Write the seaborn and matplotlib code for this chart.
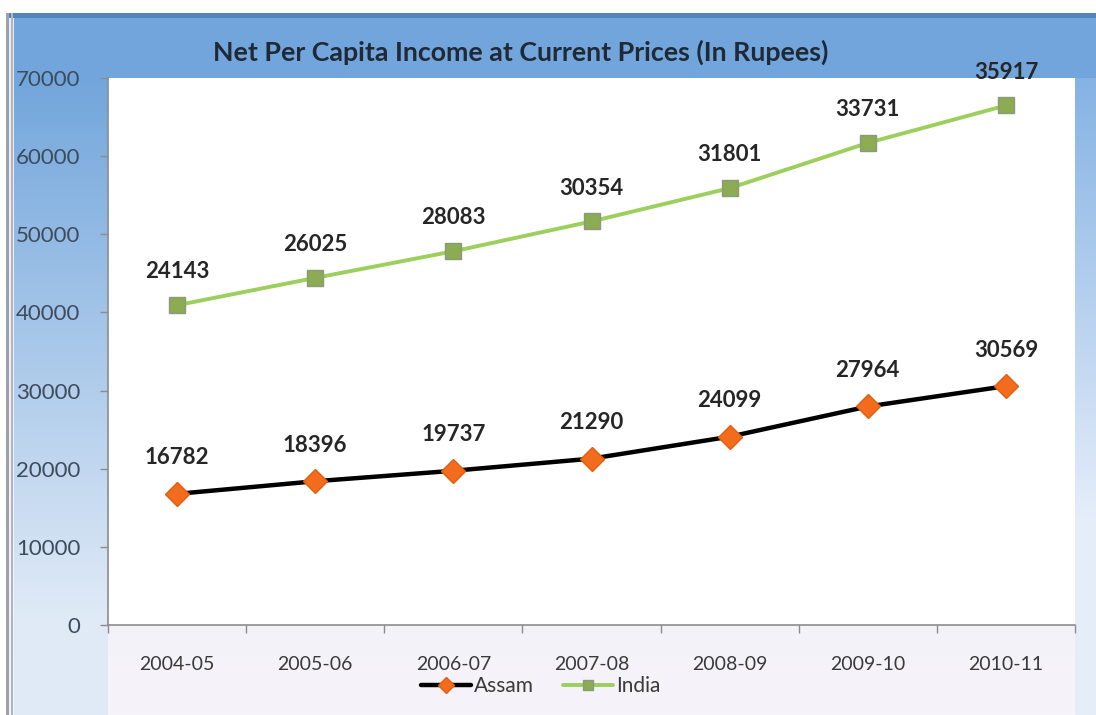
import numpy as np
import pandas as pd
import matplotlib
matplotlib.use("Agg")
import matplotlib.pyplot as plt
import seaborn as sns

# ---- data ----
years = ["2004-05", "2005-06", "2006-07", "2007-08", "2008-09", "2009-10", "2010-11"]
assam = [16782, 18396, 19737, 21290, 24099, 27964, 30569]
india = [24143, 26025, 28083, 30354, 31801, 33731, 35917]
y_ticks = [0, 10000, 20000, 30000, 40000, 50000, 60000, 70000]
title = "Net Per Capita Income at Current Prices (In Rupees)"

# stacked line chart: India series is drawn on top of Assam
india_stacked = [a + b for a, b in zip(assam, india)]

df = pd.DataFrame({
    "year": years * 2,
    "value": assam + india_stacked,
    "series": ["Assam"] * len(years) + ["India"] * len(years),
})

sns.set_theme(style="white")
plt.rcParams["font.family"] = ["Lato", "DejaVu Sans"]

W, H = 1096, 715
fig = plt.figure(figsize=(W / 100, H / 100), dpi=100)

# ---- background (frame styling) ----
bg = np.ones((H, W, 3))
base_top = np.array([0.90, 0.93, 0.97])
base_bot = np.array([0.965, 0.955, 0.98])
yy = np.linspace(0, 1, H)[:, None]
bg[:] = (base_top * (1 - yy) + base_bot * yy).reshape(H, 1, 3)
blue_top = np.array([0.40, 0.62, 0.85])
blue_fade = np.array([0.88, 0.92, 0.97])
t = np.clip((np.arange(H) - 18) / 600.0, 0, 1)[:, None]
side = blue_top * (1 - t) + blue_fade * t
bg[:, 14:108, :] = side[:, None, :]
t2 = np.clip((np.arange(H) - 18) / 500.0, 0, 1)[:, None]
side2 = np.array([0.47, 0.67, 0.88]) * (1 - t2) + np.array([0.90, 0.93, 0.98]) * t2
bg[:, 1075:, :] = side2[:, None, :]
bg[18:78, 14:, :] = np.array([0.45, 0.65, 0.86])
bg[:13, :, :] = 1.0
bg[13:18, 8:, :] = np.array([0.33, 0.52, 0.74])
bg[13:, 6:9, :] = np.array([0.62, 0.63, 0.67])
bg[13:, 11:13, :] = np.array([0.70, 0.71, 0.75])
bg[:, :6, :] = 1.0
bg_ax = fig.add_axes([0, 0, 1, 1], zorder=-10)
bg_ax.imshow(bg, aspect="auto", extent=[0, W, H, 0])
bg_ax.axis("off")

# ---- main axes ----
L, R, T, B = 108, 1075, 78, 625
ax = fig.add_axes([L / W, 1 - B / H, (R - L) / W, (B - T) / H])
ax.set_facecolor("white")

sns.lineplot(data=df[df.series == "Assam"], x="year", y="value", ax=ax,
             color="black", linewidth=3.2, marker="D", markersize=12,
             markerfacecolor="#f36b1c", markeredgecolor="#e0600f",
             markeredgewidth=1.0, label="Assam", sort=False)
sns.lineplot(data=df[df.series == "India"], x="year", y="value", ax=ax,
             color="#9ccf5c", linewidth=2.8, marker="s", markersize=11,
             markerfacecolor="#8cab52", markeredgecolor="#8a9a7a",
             markeredgewidth=1.0, label="India", sort=False)

# data labels (show the series' own values)
for i, a in enumerate(assam):
    ax.annotate(f"{a}", (i, a), xytext=(0, 26), textcoords="offset points",
                ha="center", va="center", fontsize=16, fontweight="bold",
                color="#262626")
for i, (v, s) in enumerate(zip(india, india_stacked)):
    ax.annotate(f"{v}", (i, s), xytext=(0, 24), textcoords="offset points",
                ha="center", va="center", fontsize=16, fontweight="bold",
                color="#262626", annotation_clip=False)

ax.set_xlim(-0.5, len(years) - 0.5)
ax.set_ylim(0, 70000)
ax.set_yticks(y_ticks)
ax.set_yticklabels([str(v) for v in y_ticks], fontsize=16, color="#3d4c5c")
ax.set_xticks(range(len(years)))
ax.set_xticklabels(years, fontsize=14, color="#3a3a3a")
ax.set_xticks(np.arange(-0.5, len(years)), minor=True)
ax.tick_params(axis="x", which="major", length=0, pad=22)
ax.tick_params(axis="x", which="minor", length=6, color="#8c8c8c", width=1, direction="out", bottom=True)
ax.tick_params(axis="y", which="major", length=6, color="#8c8c8c", width=1, direction="out", left=True, pad=14)
ax.set_xlabel("")
ax.set_ylabel("")
for sp in ["top", "right"]:
    ax.spines[sp].set_visible(False)
for sp in ["left", "bottom"]:
    ax.spines[sp].set_color("#8c8c8c")
    ax.spines[sp].set_linewidth(1.2)

# legend
leg = ax.legend(loc="center", bbox_to_anchor=(541 / W, 1 - 686 / H),
                bbox_transform=fig.transFigure, ncol=2, frameon=False,
                fontsize=15, handlelength=2.4, handletextpad=0.15,
                columnspacing=1.4, labelcolor="#3a3a3a", markerscale=0.7)

fig.text(521 / W, 1 - 52 / H, title, ha="center", va="center",
         fontsize=19.3, fontweight="bold", color="#1f2a36")

fig.savefig("out.png", dpi=100)
